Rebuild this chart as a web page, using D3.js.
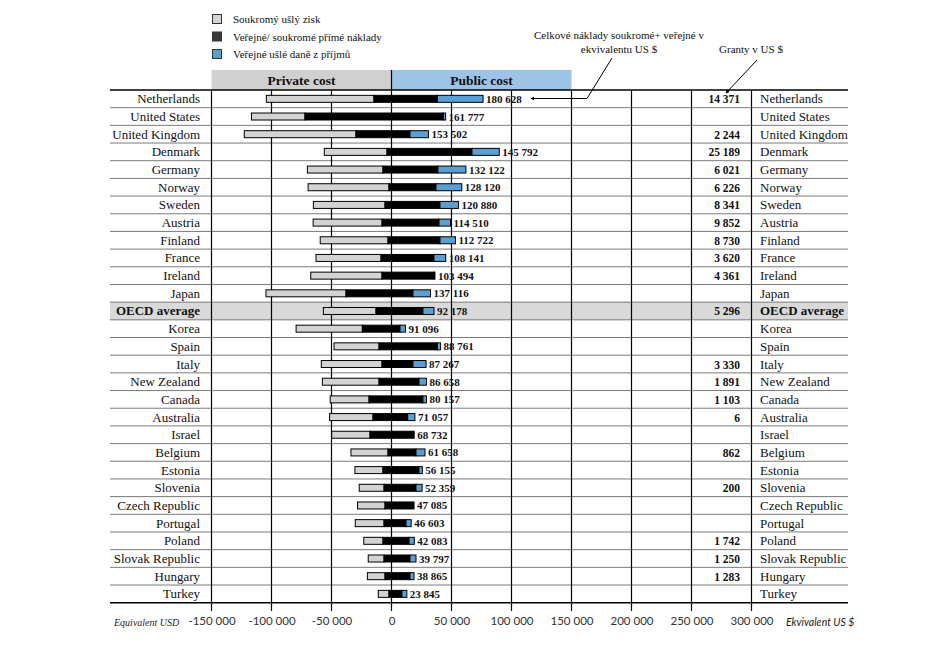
<!DOCTYPE html>
<html><head><meta charset="utf-8">
<script src="https://cdn.jsdelivr.net/npm/d3@7"></script>
<style>body{margin:0;background:#fff}</style>
</head><body><svg id="c" width="938" height="649"></svg>
<script>
const countries = ["Netherlands","United States","United Kingdom","Denmark","Germany","Norway","Sweden","Austria","Finland","France","Ireland","Japan","OECD average","Korea","Spain","Italy","New Zealand","Canada","Australia","Israel","Belgium","Estonia","Slovenia","Czech Republic","Portugal","Poland","Slovak Republic","Hungary","Turkey"];
// Soukromý ušlý zisk (private foregone earnings)
const foregoneEarnings = [89700,44600,93100,52300,63000,67400,59700,57400,56500,54200,59400,66700,43900,55200,37500,50600,47200,32400,36200,31900,30900,23400,20700,22900,24000,16000,13200,14700,8900];
// Soukromé přímé náklady (private direct costs)
const privateDirect = [14600,72100,29600,3700,7100,2100,5400,7900,2900,8700,7900,37900,12900,24300,10400,7900,10400,18700,15400,17900,2900,7100,6200,5400,6200,7100,6200,5400,2100];
// Veřejné přímé náklady (public direct costs)
const publicDirect = [38200,43200,15400,67100,38700,37100,40400,39600,40400,35400,35400,17900,26200,7100,38200,17900,22900,26200,13500,18900,20400,22900,20400,18800,12100,14600,15400,15400,8700];
// Veřejné ušlé daně z příjmů (foregone taxes)
const foregoneTaxes = [38100,1900,15400,22700,23300,21500,15400,9600,12900,9800,800,14600,9200,4500,2700,10900,6200,2900,6000,0,7500,2800,5100,0,4300,4400,5000,3400,4100];
const totalCosts = [180628,161777,153502,145792,132122,128120,120880,114510,112722,108141,103494,137116,92178,91096,88761,87267,86658,80157,71057,68732,61658,56155,52359,47085,46603,42083,39797,38865,23845];
const grants = [14371,null,2244,25189,6021,6226,8341,9852,8730,3620,4361,null,5296,null,null,3330,1891,1103,6,null,862,null,200,null,null,1742,1250,1283,null];
const tickValues = [-150000,-100000,-50000,0,50000,100000,150000,200000,250000,300000];
const legendLabels = ["Soukromý ušlý zisk","Veřejné/ soukromé přímé náklady","Veřejné ušlé daně z příjmů"];
const legendColors = ["#d3d3d3","#3a3a3a","#5b9fd2"];
const segColors = ["#d3d3d3","#000000","#5b9fd2"];

const svg = d3.select("#c");
const serif = "'Liberation Serif', serif";
const sans = "Lato, 'Liberation Sans', sans-serif";
const loc = d3.formatLocale({decimal:",", thousands:" ", grouping:[3], currency:["","$"], minus:"-"});
const fmt = loc.format(",d");

const x = d3.scaleLinear().domain([-150000,300000]).range([211.5,751.5]);
const y = d3.scaleBand().domain(countries).range([90,602.7]);
const tableL = 110, tableR = 848, topY = 90, bottomY = 602.7;

// OECD band
svg.append("rect").attr("x",tableL).attr("y",y("OECD average")).attr("width",tableR-tableL).attr("height",y.bandwidth()).attr("fill","#d9d9d9");

// header boxes
svg.append("rect").attr("x",x(-150000)).attr("y",70).attr("width",x(0)-x(-150000)).attr("height",topY-70).attr("fill","#d0d0d0");
svg.append("rect").attr("x",x(0)).attr("y",70).attr("width",x(150000)-x(0)).attr("height",topY-70).attr("fill","#9dc3e6");
svg.append("text").attr("x",(x(-150000)+x(0))/2).attr("y",84.5).attr("text-anchor","middle").attr("font-family",serif).attr("font-weight","bold").attr("font-size",13.5).attr("fill","#111").text("Private cost");
svg.append("text").attr("x",(x(0)+x(150000))/2).attr("y",84.5).attr("text-anchor","middle").attr("font-family",serif).attr("font-weight","bold").attr("font-size",13.5).attr("fill","#111").text("Public cost");

// row separators
for (let i=1;i<countries.length;i++){
  const yy = y(countries[i]);
  svg.append("line").attr("x1",tableL).attr("x2",tableR).attr("y1",yy).attr("y2",yy).attr("stroke","#7a7a7a").attr("stroke-width",1);
}
// vertical grid
tickValues.forEach(t=>{
  svg.append("line").attr("x1",x(t)).attr("x2",x(t)).attr("y1",t===0?70:topY).attr("y2",611).attr("stroke","#000").attr("stroke-width",1.2);
});
svg.append("line").attr("x1",tableL).attr("x2",tableR).attr("y1",topY).attr("y2",topY).attr("stroke","#000").attr("stroke-width",1.6);
svg.append("line").attr("x1",tableL).attr("x2",tableR).attr("y1",bottomY).attr("y2",bottomY).attr("stroke","#000").attr("stroke-width",1.6);

// axis
const axis = d3.axisBottom(x).tickValues(tickValues).tickSize(0).tickFormat(fmt);
const ag = svg.append("g").attr("transform",`translate(0,${bottomY})`).call(axis);
ag.select(".domain").remove();
ag.selectAll("text").attr("y",14).attr("font-family",sans).attr("font-size",11.5).attr("fill","#333");
svg.append("text").attr("x",114).attr("y",625.5).attr("font-family",serif).attr("font-style","italic").attr("font-size",10).attr("fill","#222").text("Equivalent USD");
svg.append("text").attr("x",786).attr("y",626).attr("font-family",sans).attr("font-style","italic").attr("font-size",10.5).attr("fill","#222").text("Ekvivalent US $");

// bars
const bh = 7;
const rows = svg.append("g");
countries.forEach((c,i)=>{
  const cy = y(c) + y.bandwidth()/2;
  const segs = [
    [-(privateDirect[i]+foregoneEarnings[i]), -privateDirect[i]],
    [-privateDirect[i], publicDirect[i]],
    [publicDirect[i], publicDirect[i]+foregoneTaxes[i]]
  ];
  segs.forEach((s,k)=>{
    if (s[1]-s[0] <= 0) return;
    rows.append("rect").attr("x",x(s[0])).attr("y",cy-bh/2).attr("width",x(s[1])-x(s[0])).attr("height",bh)
      .attr("fill",segColors[k]).attr("stroke","#000").attr("stroke-width",1);
  });
  rows.append("text").attr("x",x(publicDirect[i]+foregoneTaxes[i])+3).attr("y",cy+4).attr("font-family",serif).attr("font-weight","bold").attr("font-size",11).attr("fill","#111").text(fmt(totalCosts[i]));
  rows.append("text").attr("x",200).attr("y",cy+4.5).attr("text-anchor","end").attr("font-family",serif).attr("font-size",13).attr("font-weight",c==="OECD average"?"bold":"normal").attr("fill","#111").text(c);
  rows.append("text").attr("x",760).attr("y",cy+4.5).attr("font-family",serif).attr("font-size",13).attr("font-weight",c==="OECD average"?"bold":"normal").attr("fill","#111").text(c);
  if (grants[i]!==null){
    rows.append("text").attr("x",740).attr("y",cy+4.5).attr("text-anchor","end").attr("font-family",serif).attr("font-weight","bold").attr("font-size",11.5).attr("fill","#111").text(fmt(grants[i]));
  }
});

// legend
legendLabels.forEach((l,i)=>{
  const ly = 19 + i*17.5;
  svg.append("rect").attr("x",212.5).attr("y",ly-4.5).attr("width",9).attr("height",9).attr("fill",legendColors[i]).attr("stroke","#333").attr("stroke-width",1);
  svg.append("text").attr("x",233).attr("y",ly+4).attr("font-family",serif).attr("font-size",11).attr("fill","#111").text(l);
});

// annotations
const defs = svg.append("defs");
defs.append("marker").attr("id","ah").attr("viewBox","0 0 6 6").attr("refX",5).attr("refY",3).attr("markerWidth",4).attr("markerHeight",4).attr("orient","auto-start-reverse")
  .append("path").attr("d","M0,0 L6,3 L0,6 z").attr("fill","#000");
svg.append("text").attr("x",619).attr("y",39).attr("text-anchor","middle").attr("font-family",serif).attr("font-size",11).attr("fill","#111").text("Celkové náklady soukromé+ veřejné v");
svg.append("text").attr("x",619).attr("y",53).attr("text-anchor","middle").attr("font-family",serif).attr("font-size",11).attr("fill","#111").text("ekvivalentu US $");
svg.append("text").attr("x",751).attr("y",53).attr("text-anchor","middle").attr("font-family",serif).attr("font-size",11).attr("fill","#111").text("Granty v US $");
svg.append("polyline").attr("points","531,98.5 587,98.5 612,58").attr("fill","none").attr("stroke","#000").attr("stroke-width",1).attr("marker-start","url(#ah)");
svg.append("line").attr("x1",757).attr("y1",60).attr("x2",726).attr("y2",93).attr("stroke","#000").attr("stroke-width",1).attr("marker-end","url(#ah)");
</script>
</body></html>
